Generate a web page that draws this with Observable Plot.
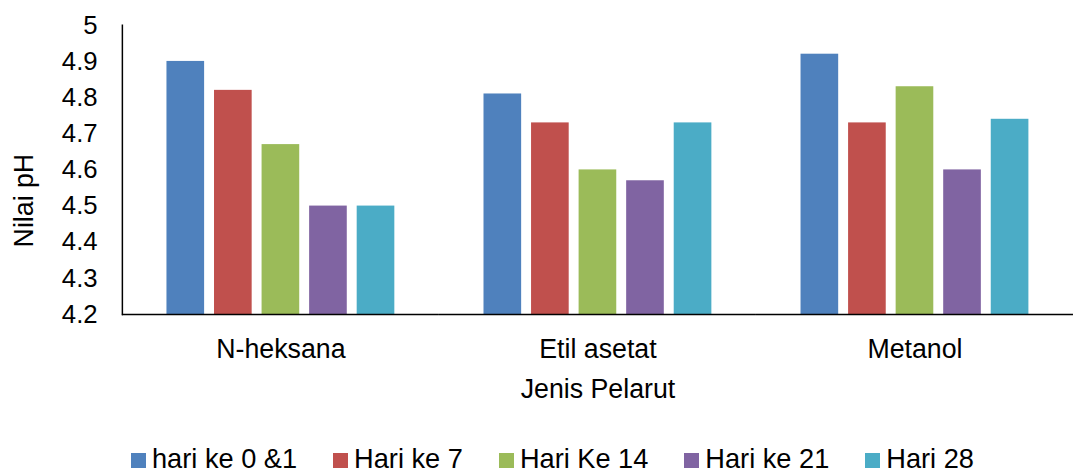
<!DOCTYPE html>
<html>
<head>
<meta charset="utf-8">
<script src="https://cdn.jsdelivr.net/npm/d3@7"></script>
<script src="https://cdn.jsdelivr.net/npm/@observablehq/plot@0.6"></script>
<style>
  html, body { margin: 0; padding: 0; background: #fff; overflow: hidden; width: 1073px; height: 474px; }
  #chart { position: relative; width: 1073px; height: 474px; overflow: hidden; }
  #legend { position: absolute; left: 131px; top: 445px; height: 27px; line-height: 27px; display: flex; align-items: center;
            font-family: "Liberation Sans", Arial, sans-serif; font-size: 27.2px; color: #000; white-space: nowrap; }
  .item { display: flex; align-items: center; margin-right: 36px; }
  .sw { width: 15px; height: 15px; margin-right: 6px; margin-top: 4px; }
</style>
</head>
<body>
<div id="chart"></div>
<script>
const categories = ["N-heksana", "Etil asetat", "Metanol"];
const series = ["hari ke 0 &1", "Hari ke 7", "Hari Ke 14", "Hari ke 21", "Hari 28"];
const valuesNheksana = [4.90, 4.82, 4.67, 4.50, 4.50];
const valuesEtilAsetat = [4.81, 4.73, 4.60, 4.57, 4.73];
const valuesMetanol = [4.92, 4.73, 4.83, 4.60, 4.74];
const colors = ["#4F81BD", "#C0504D", "#9BBB59", "#8064A2", "#4BACC6"];
const yDomain = [4.2, 5];
const yTicks = [4.2, 4.3, 4.4, 4.5, 4.6, 4.7, 4.8, 4.9, 5];
const xTitle = "Jenis Pelarut";
const yTitle = "Nilai pH";

const valueSets = [valuesNheksana, valuesEtilAsetat, valuesMetanol];
const data = [];
categories.forEach((c, i) => series.forEach((s, j) => data.push({cat: c, series: s, value: valueSets[i][j]})));

const plot = Plot.plot({
  width: 1083,
  height: 440,
  marginTop: 25,
  marginBottom: 123,
  marginLeft: 123,
  marginRight: 0,
  style: {fontFamily: "'Liberation Sans', Arial, sans-serif", fontSize: "26px", color: "#000", background: "#fff", overflow: "visible"},
  fx: {domain: categories, padding: 0},
  x: {domain: series, paddingInner: 0.2, paddingOuter: 0.87, axis: null},
  y: {domain: yDomain},
  color: {domain: series, range: colors},
  marks: [
    Plot.barY(data, {fx: "cat", x: "series", y1: () => yDomain[0], y2: "value", fill: "series"}),
    Plot.ruleY([yDomain[0]], {stroke: "#000", strokeWidth: 1.5}),
    Plot.frame({anchor: "left", facetAnchor: "left", stroke: "#000", strokeWidth: 1.5}),
    Plot.axisY({ticks: yTicks, tickFormat: d => String(d), tickSize: 0, tickPadding: 25, fontSize: 26, label: null}),
    Plot.axisFx({anchor: "bottom", tickSize: 0, tickPadding: 25, fontSize: 27, label: xTitle, labelAnchor: "center", labelOffset: 84}),
    Plot.text([yTitle], {frameAnchor: "left", facetAnchor: "left", rotate: -90, dx: -90, dy: 31, fontSize: 27, textAnchor: "middle", lineAnchor: "bottom", fill: "#000"})
  ]
});
const chart = document.getElementById("chart");
chart.appendChild(plot);

const legend = document.createElement("div");
legend.id = "legend";
series.forEach((s, i) => {
  const item = document.createElement("div");
  item.className = "item";
  const sw = document.createElement("div");
  sw.className = "sw";
  sw.style.background = colors[i];
  const t = document.createElement("span");
  t.textContent = s;
  item.appendChild(sw);
  item.appendChild(t);
  legend.appendChild(item);
});
chart.appendChild(legend);
</script>
</body>
</html>
